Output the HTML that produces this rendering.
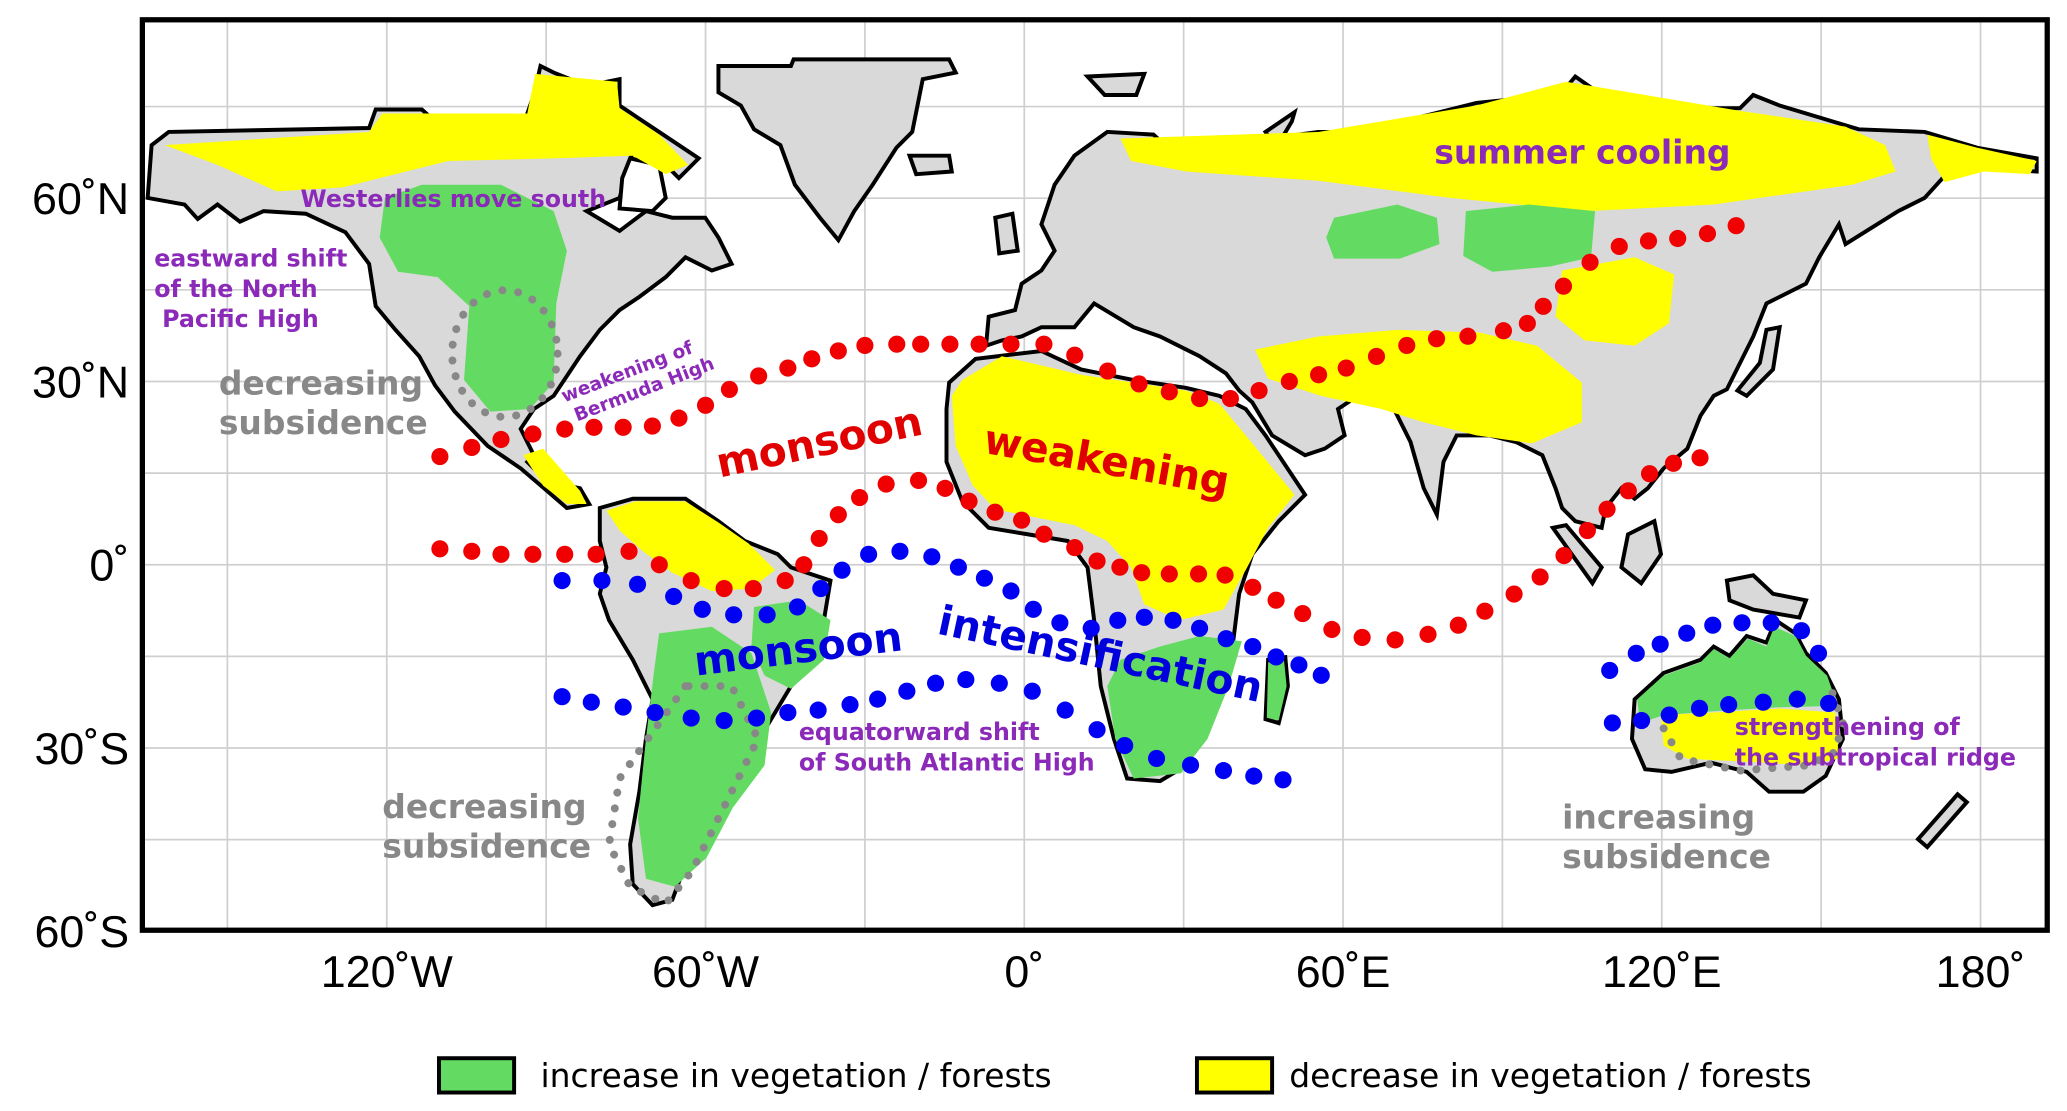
<!DOCTYPE html>
<html><head><meta charset="utf-8"><style>
html,body{margin:0;padding:0;background:#fff}
svg{display:block}
.ann{font-family:"DejaVu Sans","Liberation Sans",sans-serif;font-weight:bold}
.tick{font-family:"Liberation Sans",sans-serif;font-size:34px;fill:#000}
</style></head><body>
<svg id="map" width="2067" height="1111" viewBox="0 0 1568 842" preserveAspectRatio="none" xmlns="http://www.w3.org/2000/svg">
<defs><clipPath id="frame"><rect x="108" y="15" width="1445" height="690"/></clipPath></defs>
<rect x="0" y="0" width="1568" height="842" fill="#fff"/>
<g id="grid" stroke="#cfcfcf" stroke-width="1.3"></g>
<g clip-path="url(#frame)">
<g id="land" fill="#d9d9d9" stroke="#000" stroke-width="3" stroke-linejoin="miter">
<polygon points="112,150 115,110 128,100 280,97 285,83 320,83 330,92 350,92 360,110 370,98 395,100 405,72 410,50 420,55 445,65 470,60 470,80 500,100 530,120 515,135 500,120 480,115 470,150 445,160 470,175 490,160 510,165 535,165 545,180 555,200 540,205 520,195 505,210 485,225 470,235 455,250 440,270 420,300 405,310 395,325 405,345 400,350 415,365 440,370 447,382 430,385 415,372 395,355 370,338 345,312 330,292 318,270 300,250 285,232 280,200 262,176 232,162 200,160 182,168 165,155 150,166 140,155"/>
<polygon points="545,50 600,50 602,45 720,45 725,55 700,60 692,100 680,112 662,140 648,160 636,182 622,165 603,140 592,110 572,98 562,80 545,70"/>
<polygon points="690,118 720,118 722,130 695,132"/>
<polygon fill="#fff" points="478,120 500,125 505,150 495,160 470,158 472,135"/>
<polygon points="455,385 480,378 520,378 545,395 565,410 590,420 600,430 630,440 625,470 620,500 600,520 585,545 570,570 555,595 540,625 520,655 510,682 495,686 480,670 478,640 485,600 490,560 495,530 480,500 462,470 455,450 460,430 455,410"/>
<polygon points="720,290 740,272 790,266 820,280 860,288 900,294 925,300 945,310 960,330 990,375 970,395 950,420 940,450 935,490 920,540 900,580 880,592 855,590 845,560 835,520 830,470 825,430 810,410 780,405 750,400 730,380 718,350 718,310"/>
<polygon points="962,500 975,498 977,520 970,548 960,545"/>
<polygon points="748,262 750,240 770,235 775,215 790,205 800,190 790,170 800,140 815,118 840,100 875,102 888,114 905,112 930,115 955,106 1000,100 1040,100 1080,88 1120,78 1150,75 1185,70 1195,58 1215,72 1260,78 1300,82 1320,82 1330,72 1350,80 1390,92 1410,98 1460,100 1500,112 1545,120 1545,130 1510,128 1480,128 1460,150 1440,160 1400,185 1395,170 1380,195 1370,215 1340,230 1330,255 1320,275 1310,295 1300,300 1290,315 1280,340 1262,355 1250,370 1240,378 1230,370 1218,385 1215,400 1195,395 1185,385 1180,370 1170,345 1150,335 1130,330 1105,330 1095,350 1090,390 1080,370 1070,335 1055,305 1030,300 1015,310 1020,330 1005,340 990,345 965,330 950,305 940,296 930,283 910,270 880,255 860,248 830,230 815,248 790,248 775,255 760,258"/>
<polygon points="755,165 768,162 772,190 758,192"/>
<polygon points="825,58 868,56 862,72 838,72"/>
<polygon points="960,100 982,85 980,92 968,112"/>
<polygon points="1340,250 1350,248 1345,280 1325,300 1318,296 1335,275"/>
<polygon points="1178,400 1188,398 1215,430 1208,442"/>
<polygon points="1235,405 1255,395 1260,420 1245,442 1230,430"/>
<polygon points="1310,440 1330,436 1345,450 1370,455 1365,468 1330,462 1312,455"/>
<polygon points="1240,530 1262,510 1290,500 1300,490 1312,497 1325,482 1340,487 1347,470 1362,480 1370,495 1385,510 1395,530 1398,560 1385,588 1368,600 1342,600 1325,585 1298,578 1268,585 1248,583 1238,560"/>
<polygon points="1455,636 1485,602 1492,608 1462,642"/>
</g>
<g fill="#ffff00">
<path d="M125,110 L280,100 L290,86 L400,86 L406,56 L468,62 L470,82 L500,102 L522,125 L505,132 L480,118 L420,120 L340,122 L260,142 L210,145 L165,125 Z"/>
<path d="M397,345 L412,340 L440,372 L445,382 L430,382 L412,368 Z"/>
<path d="M460,387 L482,380 L520,380 L545,396 L568,412 L588,432 L570,446 L540,448 L510,434 L488,418 L470,402 Z"/>
<path d="M730,288 L760,270 L820,284 L900,296 L925,306 L945,330 L982,375 L962,400 L945,432 L928,462 L895,470 L868,458 L858,430 L840,410 L815,398 L785,392 L755,386 L738,368 L725,338 L722,300 Z"/>
<path d="M850,105 L1000,100 L1120,80 L1188,62 L1320,84 L1400,96 L1430,110 L1438,130 L1405,140 L1300,155 L1205,160 L1100,150 L1000,137 L900,130 L858,122 Z"/>
<path d="M1462,102 L1500,112 L1545,122 L1540,132 L1505,130 L1475,138 L1465,120 Z"/>
<path d="M952,265 L1000,255 L1060,250 L1122,252 L1166,262 L1200,290 L1200,320 L1162,336 L1120,330 L1080,320 L1048,310 L1002,300 L962,287 Z"/>
<path d="M1185,205 L1240,195 L1270,208 L1266,245 L1240,262 L1202,258 L1180,240 Z"/>
<path d="M1260,542 L1300,540 L1350,537 L1392,540 L1395,575 L1370,580 L1320,577 L1280,575 L1262,565 Z"/>
</g>
<g fill="#63db63">
<path d="M292,150 L320,140 L380,140 L420,160 L430,190 L422,230 L420,290 L402,310 L372,312 L352,288 L356,232 L332,210 L302,206 L288,180 Z"/>
<path d="M1012,165 L1060,155 L1090,165 L1092,185 L1062,196 L1012,196 L1006,180 Z"/>
<path d="M1112,160 L1160,155 L1210,160 L1207,195 L1176,202 L1132,206 L1110,194 Z"/>
<path d="M500,480 L540,475 L570,495 L585,540 L580,580 L556,612 L536,650 L512,672 L490,666 L484,620 L490,560 L496,510 Z"/>
<path d="M572,460 L606,455 L630,470 L625,500 L600,522 L580,512 L570,490 Z"/>
<path d="M850,500 L880,490 L910,482 L942,486 L932,520 L916,560 L896,586 L860,590 L846,560 L840,520 Z"/>
<path d="M962,502 L974,500 L976,520 L970,546 L961,544 Z"/>
<path d="M1242,530 L1262,512 L1290,502 L1300,492 L1312,499 L1326,484 L1340,490 L1346,475 L1362,482 L1370,497 L1386,512 L1394,535 L1350,536 L1300,539 L1262,542 L1244,548 Z"/>
</g>
<g fill="none" stroke="#888" stroke-width="6" stroke-linecap="round" stroke-dasharray="0.1 12">
<ellipse cx="383" cy="268" rx="40" ry="48"/>
<path d="M520,520 L470,590 L462,640 L478,672 L505,685 L525,660 L555,600 L575,560 L555,520 Z"/>
<path d="M1262,552 L1275,575 L1320,584 L1372,580 L1392,570 L1398,548 L1390,525"/>
</g>
<g id="dots"></g>
</g>
<rect x="108" y="15" width="1445" height="690" fill="none" stroke="#000" stroke-width="4"/>
<g id="ticks"></g>
<g class="ann">
<text x="228" y="157" font-size="18" fill="#8b2ab8">Westerlies move south</text>
<text x="117" y="202" font-size="18" fill="#8b2ab8">eastward shift</text>
<text x="117" y="225" font-size="18" fill="#8b2ab8">of the North</text>
<text x="123" y="248" font-size="18" fill="#8b2ab8">Pacific High</text>
<text x="166" y="299" font-size="25" fill="#888">decreasing</text>
<text x="166" y="329" font-size="25" fill="#888">subsidence</text>
<g transform="translate(428,305) rotate(-21)"><text x="0" y="0" font-size="14" fill="#8b2ab8">weakening of</text><text x="4" y="17" font-size="14" fill="#8b2ab8">Bermuda High</text></g>
<text transform="translate(546,362) rotate(-12)" font-size="31" fill="#e00000">monsoon</text>
<text transform="translate(745,343) rotate(10)" font-size="31" fill="#e00000">weakening</text>
<text x="1088" y="124" font-size="25" fill="#8b2ab8">summer cooling</text>
<text transform="translate(528,512) rotate(-7)" font-size="31" fill="#0000dd">monsoon</text>
<text transform="translate(710,480) rotate(12)" font-size="31" fill="#0000dd">intensification</text>
<text x="606" y="561" font-size="18" fill="#8b2ab8">equatorward shift</text>
<text x="606" y="584" font-size="18" fill="#8b2ab8">of South Atlantic High</text>
<text x="290" y="620" font-size="25" fill="#888">decreasing</text>
<text x="290" y="650" font-size="25" fill="#888">subsidence</text>
<text x="1316" y="557" font-size="18" fill="#8b2ab8">strengthening of</text>
<text x="1316" y="580" font-size="18" fill="#8b2ab8">the subtropical ridge</text>
<text x="1185" y="628" font-size="25" fill="#888">increasing</text>
<text x="1185" y="658" font-size="25" fill="#888">subsidence</text>
</g>
<g>
<rect x="333" y="802" width="57" height="26" fill="#63db63" stroke="#000" stroke-width="3"/>
<text x="410" y="824" font-size="25" font-family="DejaVu Sans, sans-serif">increase in vegetation / forests</text>
<rect x="908" y="802" width="57" height="26" fill="#ffff00" stroke="#000" stroke-width="3"/>
<text x="978" y="824" font-size="25" font-family="DejaVu Sans, sans-serif">decrease in vegetation / forests</text>
</g>
</svg>
<script>
// ---- data ----
const lonTicks = [-120, -60, 0, 60, 120, 180];
const lonTickLabels = ["120˚W", "60˚W", "0˚", "60˚E", "120˚E", "180˚"];
const latTicks = [60, 30, 0, -30, -60];
const latTickLabels = ["60˚N", "30˚N", "0˚", "30˚S", "60˚S"];
const redNorthLon = [-110,-104,-98.5,-92.5,-86.5,-81,-75.5,-70,-65,-60,-55.5,-50,-44.5,-40,-35,-30,-24,-19.5,-14,-8.5,-2.5,3.7,9.5,15.7,21.6,27.3,33,38.8,44.2,49.9,55.4,60.6,66.3,72,77.6,83.5,90.2,94.7,97.7,101.5,106.5,112,117.5,123,128.6,134];
const redNorthLat = [17.7,19.2,20.5,21.4,22.2,22.5,22.5,22.7,24,26.1,28.7,30.9,32.2,33.7,35,35.9,36.1,36.1,36.1,36.1,36.1,36.1,34.3,31.7,29.6,28.3,27.2,27.2,28.5,30,31.1,32.2,34.1,35.9,37,37.4,38.3,39.5,42.3,45.6,49.5,52.1,53,53.4,54.2,55.5,57];
const redSouthLon = [-110,-104,-98.5,-92.5,-86.5,-80.6,-74.4,-68.7,-62.7,-56.5,-51,-45,-41.5,-38.6,-35,-31,-26,-19.9,-14.9,-10.4,-5.5,-0.5,3.7,9.5,13.7,18,22.1,27.3,32.8,37.8,43,47.4,52.4,57.9,63.6,69.8,76,81.7,86.7,92.2,97.1,101.6,106,109.7,113.7,117.7,122.2,127.2,132.9];
const redSouthLat = [2.6,2.2,1.7,1.7,1.7,1.7,2.2,0,-2.6,-3.9,-3.9,-2.6,0,4.3,8.2,11,13.2,13.8,12.5,10.4,8.6,7.3,5,2.8,0.6,-0.4,-1.3,-1.5,-1.5,-1.7,-3.7,-5.8,-8,-10.6,-11.9,-12.3,-11.4,-9.9,-7.6,-4.8,-2,1.5,5.6,9.1,12.1,14.9,16.6,17.5];
const blueNorthLon = [-87,-79.5,-72.8,-66,-60.6,-54.7,-48.4,-42.7,-38.3,-34.3,-29.3,-23.4,-17.4,-12.4,-7.5,-2.5,1.7,6.7,12.6,17.6,22.6,28,33,38,43,47.4,51.7,55.9];
const blueNorthLat = [-2.6,-2.6,-3.2,-5.2,-7.3,-8.2,-8.2,-6.9,-3.9,-0.9,1.7,2.2,1.3,-0.4,-2.2,-4.3,-7.3,-9.5,-10.4,-9.1,-8.6,-9.1,-10.4,-12.1,-13.4,-15.1,-16.4,-18.1];
const blueSouthLon = [-87,-81.5,-75.5,-69.5,-62.7,-56.5,-50.4,-44.5,-38.8,-32.8,-27.6,-22.1,-16.7,-11,-4.7,1.5,7.7,13.7,18.9,24.9,31.3,37.5,43.2,48.7];
const blueSouthLat = [-21.6,-22.5,-23.3,-24.2,-25.1,-25.5,-25.1,-24.2,-23.8,-22.9,-22,-20.7,-19.4,-18.8,-19.4,-20.7,-23.8,-27,-29.6,-31.7,-32.8,-33.7,-34.6,-35.2];
const blueAusNorthLon = [110.2,115.2,119.7,124.7,129.6,135.1,140.6,146.3,149.5];
const blueAusNorthLat = [-17.3,-14.5,-13,-11.2,-9.9,-9.5,-9.5,-10.8,-14.5];
const blueAusSouthLon = [110.7,116.2,121.4,127.1,132.6,139.1,145.5,151.4];
const blueAusSouthLat = [-25.9,-25.5,-24.6,-23.5,-22.9,-22.5,-22,-22.7];
// ---- axes ----
const LON0 = 777, PXLON = 4.03, LAT0 = 428, PXLAT = 4.63;
function xs(lon){ return LON0 + lon * PXLON; }
function ys(lat){ return LAT0 - lat * PXLAT; }
const NS = "http://www.w3.org/2000/svg";
const grid = document.getElementById('grid');
for (let lon = -150; lon <= 180; lon += 30) {
  const l = document.createElementNS(NS, 'line');
  l.setAttribute('x1', xs(lon)); l.setAttribute('x2', xs(lon));
  l.setAttribute('y1', 15); l.setAttribute('y2', 705);
  
  
  grid.appendChild(l);
}
for (let lat = 75; lat >= -60; lat -= 15) {
  const l = document.createElementNS(NS, 'line');
  l.setAttribute('x1', 108); l.setAttribute('x2', 1553);
  l.setAttribute('y1', ys(lat)); l.setAttribute('y2', ys(lat));
  
  
  grid.appendChild(l);
}
const ticks = document.getElementById('ticks');
lonTicks.forEach((v, i) => {
  const t = document.createElementNS(NS, 'text');
  t.setAttribute('x', xs(v)); t.setAttribute('y', 748);
  t.setAttribute('text-anchor', 'middle'); t.setAttribute('class', 'tick');
  t.textContent = lonTickLabels[i];
  
  
  ticks.appendChild(t);
});
latTicks.forEach((v, i) => {
  const t = document.createElementNS(NS, 'text');
  t.setAttribute('x', 98); t.setAttribute('y', Math.min(ys(v) + 12, 718));
  t.setAttribute('text-anchor', 'end'); t.setAttribute('class', 'tick');
  t.textContent = latTickLabels[i];
  
  
  ticks.appendChild(t);
});
const dots = document.getElementById('dots');
function series(lons, lats, color, name) {
  lons.forEach((lon, i) => {
    const c = document.createElementNS(NS, 'circle');
    c.setAttribute('cx', xs(lon)); c.setAttribute('cy', ys(lats[i]));
    c.setAttribute('r', 6.5); c.setAttribute('fill', color);
    
    
    dots.appendChild(c);
  });
}
series(redNorthLon, redNorthLat, '#f00000', 'red-dot-north');
series(redSouthLon, redSouthLat, '#f00000', 'red-dot-south');
series(blueNorthLon, blueNorthLat, '#0000f5', 'blue-dot-north');
series(blueSouthLon, blueSouthLat, '#0000f5', 'blue-dot-south');
series(blueAusNorthLon, blueAusNorthLat, '#0000f5', 'blue-dot-australia-north');
series(blueAusSouthLon, blueAusSouthLat, '#0000f5', 'blue-dot-australia-south');
</script>
</body></html>
